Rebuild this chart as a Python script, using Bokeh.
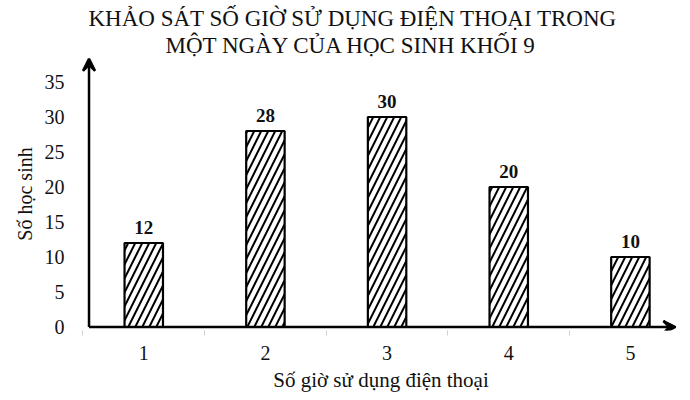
from bokeh.plotting import figure
from bokeh.models import Range1d, FixedTicker, Arrow, VeeHead, Title, ColumnDataSource
from bokeh.core.properties import value
from bokeh.embed import file_html
from bokeh.resources import INLINE

hours = [1, 2, 3, 4, 5]
students = [12, 28, 30, 20, 10]
y_ticks = [0, 5, 10, 15, 20, 25, 30, 35]
title_lines = ["KHẢO SÁT SỐ GIỜ SỬ DỤNG ĐIỆN THOẠI TRONG", "MỘT NGÀY CỦA HỌC SINH KHỐI 9"]
title_offsets = [8, 85]
x_label = "Số giờ sử dụng điện thoại"
y_label = "Số học sinh"

FONT = "Liberation Serif"
INK = "#111111"

p = figure(width=687, height=397, output_backend="svg", toolbar_location=None,
           x_range=Range1d(0.48, 5.42), y_range=Range1d(-0.5, 38.5),
           min_border_left=80, min_border_right=6, min_border_top=57, min_border_bottom=67)
p.outline_line_color = None
p.grid.visible = False
p.background_fill_color = "white"

src = ColumnDataSource(dict(x=hours, top=students, lbl=[str(v) for v in students]))
p.vbar(x="x", top="top", bottom=0, width=0.316, source=src,
       fill_color="white", line_color="black", line_width=2.2,
       hatch_pattern="right_diagonal_line", hatch_color="black",
       hatch_scale=14, hatch_weight=2)
p.text(x="x", y="top", text="lbl", source=src, y_offset=-9,
       text_align="center", text_baseline="bottom",
       text_font=value(FONT), text_font_size="19px", text_font_style="bold",
       text_color=INK)

# axes
xa = p.xaxis[0]
xa.ticker = FixedTicker(ticks=hours, minor_ticks=[0.5, 1.5, 2.5, 3.5, 4.5])
xa.axis_line_color = None
xa.major_tick_line_color = None
xa.minor_tick_in = 0
xa.minor_tick_out = 5
xa.minor_tick_line_color = "#d0d0d0"
xa.major_label_standoff = 9
xa.major_label_text_font = FONT
xa.major_label_text_font_size = "20px"
xa.major_label_text_color = INK
xa.axis_label = x_label
xa.axis_label_text_font = FONT
xa.axis_label_text_font_size = "21px"
xa.axis_label_text_font_style = "normal"
xa.axis_label_text_color = INK
xa.axis_label_standoff = 5

ya = p.yaxis[0]
ya.ticker = FixedTicker(ticks=y_ticks, minor_ticks=[])
ya.axis_line_color = None
ya.major_tick_line_color = None
ya.minor_tick_line_color = None
ya.major_label_standoff = 10
ya.major_label_text_font = FONT
ya.major_label_text_font_size = "20px"
ya.major_label_text_color = INK
ya.axis_label = y_label
ya.axis_label_text_font = FONT
ya.axis_label_text_font_size = "20px"
ya.axis_label_text_font_style = "normal"
ya.axis_label_text_color = INK
ya.axis_label_standoff = 6

# arrowed axis lines
p.add_layout(Arrow(x_start=0.55, y_start=0, x_end=0.55, y_end=38.3,
                   line_width=2.5, line_color="black",
                   end=VeeHead(size=12, line_width=2.5, line_color="black")))
p.add_layout(Arrow(x_start=0.55, y_start=0, x_end=5.37, y_end=0,
                   line_width=2.5, line_color="black",
                   end=VeeHead(size=12, line_width=2.5, line_color="black")))

# two-line title (closest to plot added first)
for txt, off in reversed(list(zip(title_lines, title_offsets))):
    p.add_layout(Title(text=txt, align="left", offset=off, standoff=0,
                       text_font=FONT, text_font_size="23px", text_font_style="normal",
                       text_color=INK), "above")

open("out.html", "w").write(file_html(p, INLINE))
